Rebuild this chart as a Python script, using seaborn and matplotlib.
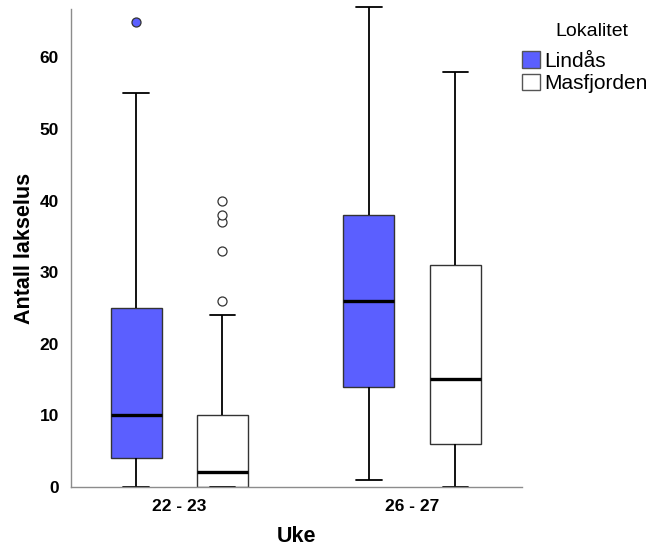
import matplotlib
matplotlib.use("Agg")
import matplotlib.pyplot as plt
from matplotlib.patches import Patch
import seaborn as sb
import pandas as pd

# observations per week group and locality (counts of lice)
lindas_22_23 = [0, 2, 4, 7, 10, 15, 25, 55, 65]
masfjorden_22_23 = [0, 0, 0, 0, 0, 0, 0, 1, 1, 1, 2, 2, 2, 3, 5, 6, 8, 9, 10,
                    24, 26, 33, 37, 38, 40]
lindas_26_27 = [1, 8, 14, 20, 26, 32, 38, 50, 67]
masfjorden_26_27 = [0, 3, 6, 10, 15, 22, 31, 45, 58]

weeks = ["22 - 23", "26 - 27"]
localities = ["Lindås", "Masfjorden"]
colors = {"Lindås": "#5b5fff", "Masfjorden": "white"}

rows = []
for week, loc, vals in [(weeks[0], localities[0], lindas_22_23),
                        (weeks[0], localities[1], masfjorden_22_23),
                        (weeks[1], localities[0], lindas_26_27),
                        (weeks[1], localities[1], masfjorden_26_27)]:
    for v in vals:
        rows.append({"Uke": week, "Lokalitet": loc, "Antall lakselus": v})
df = pd.DataFrame(rows)

sb.set_style("white")
plt.rcParams["font.family"] = ["Liberation Sans", "DejaVu Sans"]
plt.rcParams["text.color"] = "black"
plt.rcParams["axes.labelcolor"] = "black"

fig = plt.figure(figsize=(6.56, 5.56), dpi=100)
ax = fig.add_axes([0.1078, 0.1246, 0.6875, 0.8584])

sb.boxplot(
    data=df, x="Uke", y="Antall lakselus", hue="Lokalitet",
    order=weeks, hue_order=localities, palette=colors, saturation=1,
    width=0.742, gap=0.41, whis=1.5, linewidth=1.0,
    linecolor="#333333", legend=False, ax=ax,
    medianprops={"color": "black", "linewidth": 2.4},
    whiskerprops={"color": "black", "linewidth": 1.3},
    capprops={"color": "black", "linewidth": 1.3},
    flierprops={"marker": "o", "markersize": 6.5, "markeredgecolor": "#333333",
                "markeredgewidth": 0.9, "markerfacecolor": "white"},
)

# fill the Lindås outliers like its box, keep caps at the top edge visible
for line in ax.lines:
    line.set_clip_on(False)
    xd = line.get_xdata()
    if line.get_marker() == "o" and len(xd) > 0:
        x0 = float(xd[0])
        if x0 - round(x0) < 0:
            line.set_markerfacecolor(colors["Lindås"])

ax.set_xlim(-0.466, 1.471)
ax.set_ylim(0, 66.7)
ax.set_yticks([0, 10, 20, 30, 40, 50, 60])

for s in ["top", "right"]:
    ax.spines[s].set_visible(False)
for s in ["left", "bottom"]:
    ax.spines[s].set_color("#8c8c8c")
    ax.spines[s].set_linewidth(1.0)

ax.tick_params(axis="both", length=6.5, width=1.0, color="#666666",
               labelsize=12.5, labelcolor="black", direction="out", pad=2)
for lab in ax.get_xticklabels() + ax.get_yticklabels():
    lab.set_fontweight("bold")

ax.set_xlabel("Uke", fontsize=15.5, fontweight="bold", labelpad=9)
ax.set_ylabel("Antall lakselus", fontsize=15.5, fontweight="bold", labelpad=3)

fig.text(592 / 656, 1 - 31 / 556, "Lokalitet", fontsize=14, ha="center",
         va="center", color="black")
handles = [Patch(facecolor=colors[l], edgecolor="#555555", linewidth=1.0, label=l)
           for l in localities]
fig.legend(handles=handles, loc="upper left",
           bbox_to_anchor=(522 / 656, 1 - 51 / 556), frameon=False, fontsize=15,
           handlelength=0.85, handleheight=0.85, handletextpad=0.2,
           labelspacing=0.15, borderaxespad=0, borderpad=0)

fig.savefig("out.png", dpi=100)
